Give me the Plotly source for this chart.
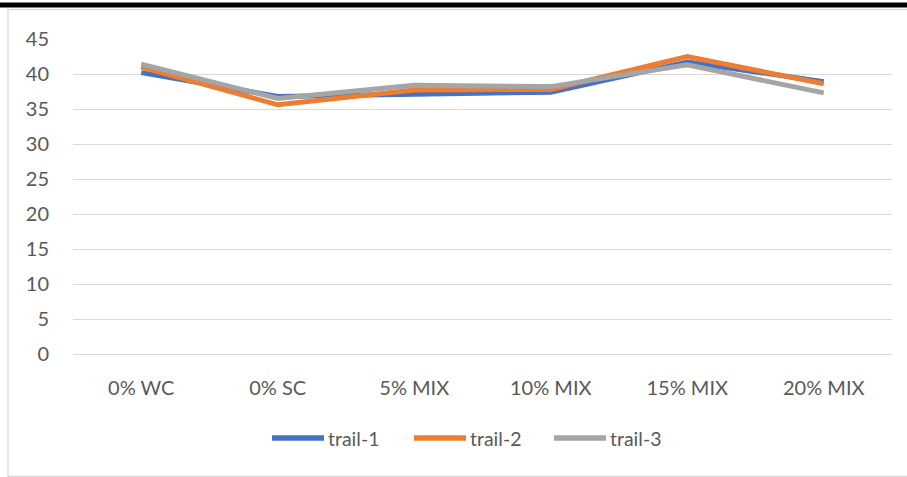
import plotly.graph_objects as go

categories = ["0% WC", "0% SC", "5% MIX", "10% MIX", "15% MIX", "20% MIX"]
trail_1 = [40.2, 36.8, 37.1, 37.4, 41.7, 38.9]
trail_2 = [41.0, 35.6, 37.7, 37.8, 42.5, 38.6]
trail_3 = [41.4, 36.5, 38.4, 38.2, 41.3, 37.3]
y_ticks = [0, 5, 10, 15, 20, 25, 30, 35, 40, 45]
series_names = ["trail-1", "trail-2", "trail-3"]
series_colors = ["#4472C4", "#ED7D31", "#A5A5A5"]
series_values = [trail_1, trail_2, trail_3]

W, H = 907, 477
L, R, T, B = 73, 15, 39, 123
pw, ph = W - L - R, H - T - B

def px(x):
    return (x - L) / pw

def py(y):
    return (H - B - y) / ph

font_family = "Lato, Liberation Sans, Arial"
text_color = "#595959"

fig = go.Figure()
for name, vals, col in zip(series_names, series_values, series_colors):
    fig.add_trace(go.Scatter(x=categories, y=vals, name=name, mode="lines",
                             line=dict(color=col, width=5), showlegend=False))

shapes = [
    dict(type="rect", xref="paper", yref="paper", x0=px(-5), x1=px(W + 5),
         y0=py(7.5), y1=py(2.5), fillcolor="black", line=dict(width=0),
         layer="above"),
    dict(type="rect", xref="paper", yref="paper", x0=px(8), x1=px(W + 5),
         y0=py(476.5), y1=py(9.5), fillcolor="rgba(0,0,0,0)",
         line=dict(color="#D9D9D9", width=1.3), layer="below"),
]
annotations = []
legend_y = 438
legend_x0 = [270, 412, 552]
for x0, name, col in zip(legend_x0, series_names, series_colors):
    shapes.append(dict(type="line", xref="paper", yref="paper",
                       x0=px(x0 + 2), x1=px(x0 + 54), y0=py(legend_y), y1=py(legend_y),
                       line=dict(color=col, width=5.5)))
    annotations.append(dict(xref="paper", yref="paper", x=px(x0 + 56), y=py(legend_y),
                            xanchor="left", yanchor="middle", text=name, showarrow=False,
                            font=dict(family=font_family, size=19.5, color=text_color)))

fig.update_layout(
    width=W, height=H,
    margin=dict(l=L, r=R, t=T, b=B, pad=0),
    paper_bgcolor="white", plot_bgcolor="white",
    font=dict(family=font_family, size=20, color=text_color),
    xaxis=dict(showgrid=False, showline=False, zeroline=False, ticks="",
               ticklabelstandoff=20, range=[-0.5, 5.5]),
    yaxis=dict(range=[0, 45], tickvals=y_ticks, showgrid=True,
               gridcolor="#D9D9D9", gridwidth=1.3, zeroline=True,
               zerolinecolor="#D9D9D9", zerolinewidth=1.3,
               showline=False, ticks="", ticklabelstandoff=23),
    showlegend=False,
    shapes=shapes,
    annotations=annotations,
)

fig.write_html("out.html")
